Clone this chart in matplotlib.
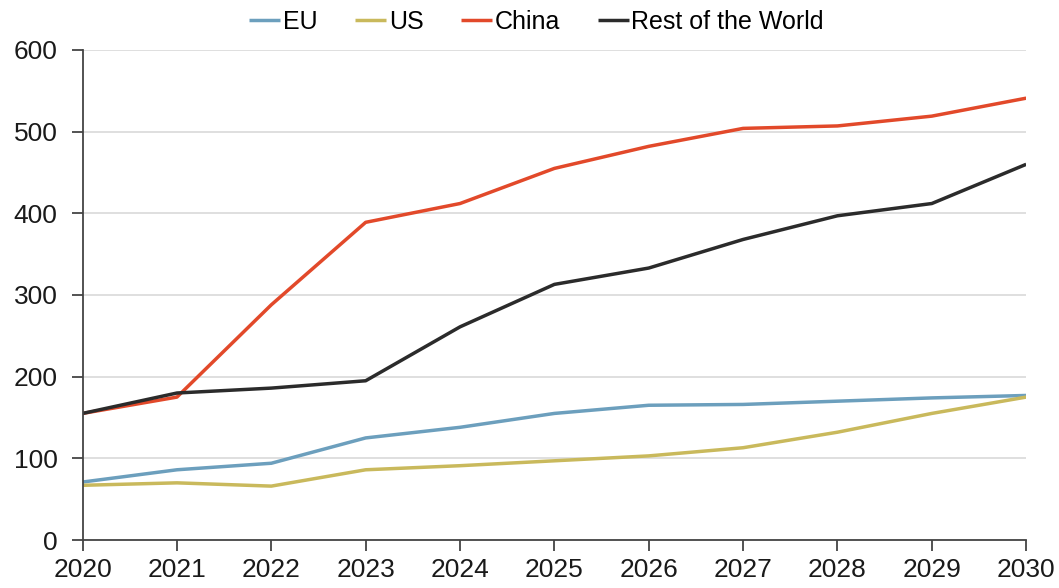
import matplotlib.pyplot as plt

plt.rcParams['font.family'] = ['Liberation Sans', 'DejaVu Sans']

years = [2020, 2021, 2022, 2023, 2024, 2025, 2026, 2027, 2028, 2029, 2030]
eu = [71, 86, 94, 125, 138, 155, 165, 166, 170, 174, 177]
us = [67, 70, 66, 86, 91, 97, 103, 113, 132, 155, 175]
china = [155, 175, 288, 389, 412, 455, 482, 504, 507, 519, 541]
rest = [155, 180, 186, 195, 261, 313, 333, 368, 397, 412, 460]

series = [('EU', eu, '#6c9fbd'), ('US', us, '#c9b95c'),
          ('China', china, '#e2492a'), ('Rest of the World', rest, '#2b2b2b')]

fig = plt.figure(figsize=(10.59, 5.88), dpi=100)
ax = fig.add_axes([0.078, 0.0816, 0.891, 0.8334])

for name, vals, col in series:
    ax.plot(years, vals, color=col, lw=2.5, label=name, solid_capstyle='butt')

ax.set_xlim(2020, 2030)
ax.set_ylim(0, 600)
ax.set_xticks(years)
ax.set_yticks(range(0, 601, 100))
ax.yaxis.grid(True, color='#d9d9d9', lw=1.2)
ax.set_axisbelow(True)
for s in ['top', 'right']:
    ax.spines[s].set_visible(False)
for s in ['left', 'bottom']:
    ax.spines[s].set_color('#444444')
    ax.spines[s].set_linewidth(1.3)
ax.tick_params(axis='both', labelsize=19, length=8, width=1.3, color='#444444',
               labelcolor='#1a1a1a')
ax.tick_params(axis='y', pad=10)
ax.tick_params(axis='x', pad=5)

ax.legend(loc='lower center', bbox_to_anchor=(0.481, 1.0), ncol=4, frameon=False,
          fontsize=18, handlelength=1.25, handletextpad=0.1, columnspacing=1.5,
          borderaxespad=0.25)

fig.savefig('out.png', dpi=100)
